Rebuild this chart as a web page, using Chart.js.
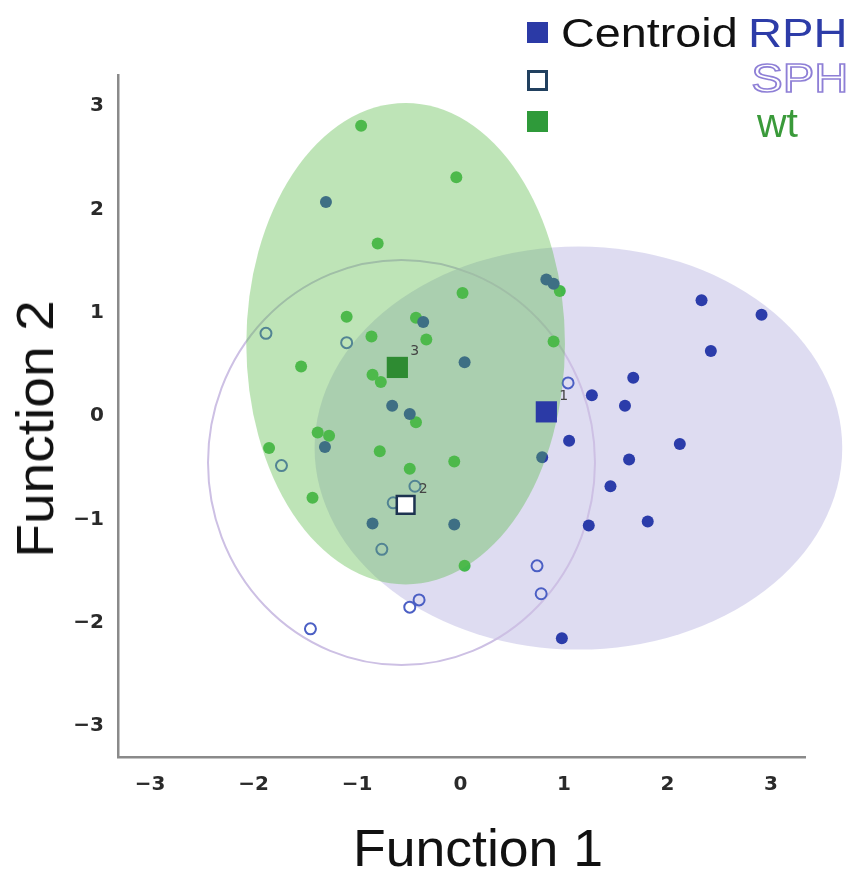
<!DOCTYPE html>
<html>
<head>
<meta charset="UTF-8">
<title>Discriminant functions</title>
<script src="https://cdn.jsdelivr.net/npm/chart.js@4.4.1/dist/chart.umd.min.js"></script>
<style>
  html, body { margin: 0; padding: 0; background: #fff; }
  #wrap { position: relative; width: 853px; height: 875px; }
  .legend { position: absolute; font-family: 'Liberation Sans', Arial, sans-serif; font-size: 41px; line-height: 40px; white-space: nowrap; }
  .swatch { position: absolute; box-sizing: border-box; }
  .axis-title { position: absolute; font-family: 'Liberation Sans', Arial, sans-serif; font-size: 52px; line-height: 52px; color: #111; white-space: nowrap; }
</style>
</head>
<body>
<div id="wrap">
  <canvas id="chart"></canvas>
  <div class="swatch" style="left:527px;top:22px;width:21px;height:21px;background:#2b3aa6"></div>
  <div class="swatch" style="left:527px;top:70px;width:21px;height:21px;background:#fff;border:3px solid #21405f"></div>
  <div class="swatch" style="left:527px;top:111px;width:21px;height:21px;background:#2f9a3a"></div>
  <div class="legend" style="left:561px;top:13px;color:#111;transform:scaleX(1.14);transform-origin:left center">Centroid</div>
  <div class="legend" style="right:5px;top:13px;color:#2d3ca8;transform:scaleX(1.15);transform-origin:right center">RPH</div>
  <div class="legend" style="right:5px;top:58px;color:transparent;-webkit-text-stroke:1.6px #8e7fd6;transform:scaleX(1.15);transform-origin:right center">SPH</div>
  <div class="legend" style="left:757px;top:103px;color:#3a9a3a">wt</div>
  <div class="axis-title" style="left:478px;top:822px;transform:translateX(-50%) scaleX(1.03)">Function 1</div>
  <div class="axis-title" style="left:35px;top:429px;transform:translate(-50%,-50%) rotate(-90deg) scaleX(1.06)">Function 2</div>
</div>
<script>
// group points (Function 1, Function 2)
const rphX = [-1.30, -0.36, 0.04, -0.66, -0.49, -1.31, -0.85, -0.06, 0.83, 0.90, 2.33, 2.91,
  2.42, 1.67, 1.27, 1.59, 1.05, 2.12, 0.79, 1.63, 1.45, 1.24, 1.81, 0.98];
const rphY = [2.07, 0.91, 0.52, 0.10, 0.02, -0.30, -1.04, -1.05, 1.32, 1.28, 1.12, 0.98,
  0.63, 0.37, 0.20, 0.10, -0.24, -0.27, -0.40, -0.42, -0.68, -1.06, -1.02, -2.15];

const sphX = [-1.88, -1.10, -1.73, -0.44, -0.65, -0.76, -0.40, -0.49, -1.45, 1.04, 0.74, 0.78];
const sphY = [0.80, 0.71, -0.48, -0.68, -0.84, -1.29, -1.78, -1.85, -2.06, 0.32, -1.45, -1.72];

const wtX = [-0.96, -0.04, -0.80, 0.02, -1.10, -0.43, -0.86, -0.33, -1.54, -0.85, -0.77,
  -0.43, -1.38, -1.27, -1.85, -0.78, -0.06, -0.49, -1.43, 0.04, 0.96, 0.90];
const wtY = [2.81, 2.31, 1.67, 1.19, 0.96, 0.95, 0.77, 0.74, 0.48, 0.40, 0.33,
  -0.06, -0.16, -0.19, -0.31, -0.34, -0.44, -0.51, -0.79, -1.45, 1.21, 0.72];

// group centroids and their number labels
const groups = ['RPH', 'SPH', 'wt'];
const centroidX = [0.83, -0.53, -0.61];
const centroidY = [0.04, -0.86, 0.47];
const centroidLabels = ['1', '2', '3'];

// group regions (centre and half axes, in function units)
const regionCx = [1.14, -0.57, -0.53];
const regionCy = [-0.31, -0.45, 0.70];
const regionRx = [2.55, 1.87, 1.54];
const regionRy = [1.95, 1.96, 2.33];

const tickValues = [-3, -2, -1, 0, 1, 2, 3];
const tickLabels = ['\u22123', '\u22122', '\u22121', '0', '1', '2', '3'];

const toPoints = (xs, ys) => xs.map((v, i) => ({x: v, y: ys[i]}));

function ellipsePath(chart, i) {
  const {ctx, scales: {x, y}} = chart;
  const px = x.getPixelForValue(regionCx[i]);
  const py = y.getPixelForValue(regionCy[i]);
  const rx = Math.abs(x.getPixelForValue(regionCx[i] + regionRx[i]) - px);
  const ry = Math.abs(y.getPixelForValue(regionCy[i] + regionRy[i]) - py);
  ctx.beginPath();
  ctx.ellipse(px, py, rx, ry, 0, 0, Math.PI * 2);
}

let overlayDone = false;
const regions = {
  id: 'regions',
  beforeDatasetsDraw(chart) {
    const ctx = chart.ctx;
    overlayDone = false;
    ctx.save();
    ellipsePath(chart, 0);
    ctx.fillStyle = 'rgba(160,155,215,0.35)';
    ctx.fill();
    ellipsePath(chart, 1);
    ctx.strokeStyle = '#cdc0e4';
    ctx.lineWidth = 2;
    ctx.stroke();
    ctx.restore();
  },
  beforeDatasetDraw(chart, args) {
    // green region lies over the group points but under the centroids
    if (overlayDone || args.index < 3) return;
    const ctx = chart.ctx;
    ctx.save();
    ellipsePath(chart, 2);
    ctx.fillStyle = 'rgba(92,187,75,0.4)';
    ctx.fill();
    ctx.restore();
    overlayDone = true;
  },
  afterDatasetsDraw(chart) {
    const {ctx, scales: {x, y}} = chart;
    ctx.save();
    ctx.font = '14px "DejaVu Sans", sans-serif';
    ctx.fillStyle = '#444';
    ctx.textBaseline = 'middle';
    centroidLabels.forEach((t, i) => {
      ctx.fillText(t, x.getPixelForValue(centroidX[i]) + 13, y.getPixelForValue(centroidY[i]) - 16);
    });
    ctx.restore();
  }
};

const centroidStyle = [
  {bg: '#2b3aa6', border: '#2b3aa6', r: 15, w: 0},
  {bg: '#ffffff', border: '#1d3350', r: 12.5, w: 2.5},
  {bg: '#2e8b32', border: '#2e8b32', r: 15, w: 0}
];

const datasets = [
  {label: 'RPH', data: toPoints(rphX, rphY), order: 1, pointRadius: 6,
    backgroundColor: '#2b3caa', borderColor: '#2b3caa', borderWidth: 0},
  {label: 'SPH', data: toPoints(sphX, sphY), order: 1, pointRadius: 5.5,
    backgroundColor: 'rgba(0,0,0,0)', borderColor: '#4b5fc4', borderWidth: 2},
  {label: 'wt', data: toPoints(wtX, wtY), order: 1, pointRadius: 6,
    backgroundColor: '#44b84c', borderColor: '#44b84c', borderWidth: 0}
];
groups.forEach((g, i) => {
  const s = centroidStyle[i];
  datasets.push({label: 'Centroid ' + g, data: [{x: centroidX[i], y: centroidY[i]}], order: 0,
    pointStyle: 'rect', pointRadius: s.r, backgroundColor: s.bg, borderColor: s.border, borderWidth: s.w});
});

const tickFont = {family: '"DejaVu Sans", sans-serif', size: 20, weight: 'bold'};

new Chart(document.getElementById('chart'), {
  type: 'scatter',
  data: {datasets},
  options: {
    responsive: true,
    maintainAspectRatio: false,
    animation: false,
    layout: {padding: {top: 75, right: 48, left: 0, bottom: 0}},
    plugins: {legend: {display: false}, tooltip: {enabled: false}},
    scales: {
      x: {
        min: -3.31, max: 3.33,
        grid: {display: false, drawTicks: false},
        border: {display: true, color: '#8a8a8a', width: 2.5},
        afterBuildTicks: s => { s.ticks = tickValues.map(v => ({value: v})); },
        afterFit: s => { s.height = 118; },
        ticks: {color: '#2a2a2a', font: tickFont, padding: 16,
          callback: v => tickLabels[tickValues.indexOf(v)]},
        title: {display: false, text: 'Function 1'}
      },
      y: {
        min: -3.3, max: 3.3,
        grid: {display: false, drawTicks: false},
        border: {display: true, color: '#8a8a8a', width: 2.5},
        afterBuildTicks: s => { s.ticks = tickValues.map(v => ({value: v})); },
        afterFit: s => { s.width = 118; },
        ticks: {color: '#2a2a2a', font: tickFont, padding: 14,
          callback: v => tickLabels[tickValues.indexOf(v)]},
        title: {display: false, text: 'Function 2'}
      }
    }
  },
  plugins: [regions]
});
</script>
</body>
</html>
